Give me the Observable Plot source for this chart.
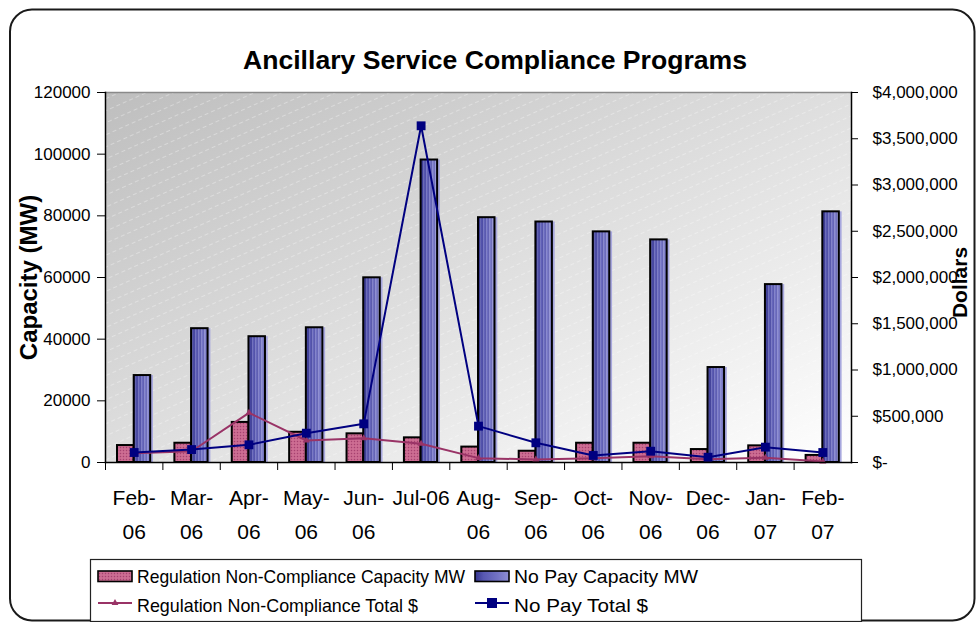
<!DOCTYPE html>
<html><head><meta charset="utf-8">
<script src="https://cdn.jsdelivr.net/npm/d3@7"></script>
<script src="https://cdn.jsdelivr.net/npm/@observablehq/plot@0.6"></script>
<style>
body{margin:0;background:#fff;}
#chart{position:relative;width:976px;height:622px;}
</style></head><body><div id="chart"></div>
<script>
// ---- data ----
const months = ["Feb-06","Mar-06","Apr-06","May-06","Jun-06","Jul-06","Aug-06","Sep-06","Oct-06","Nov-06","Dec-06","Jan-07","Feb-07"];
const monthLabels = ["Feb-\n06","Mar-\n06","Apr-\n06","May-\n06","Jun-\n06","Jul-06","Aug-\n06","Sep-\n06","Oct-\n06","Nov-\n06","Dec-\n06","Jan-\n07","Feb-\n07"];
const regCapacityMW = [5500, 6250, 13000, 9800, 9300, 8000, 5000, 3650, 6250, 6250, 4200, 5400, 2300];
const noPayCapacityMW = [28200, 43400, 40800, 43700, 59900, 98100, 79400, 78000, 74800, 72200, 30800, 57700, 81300];
const regTotalDollars = [100000, 122000, 537000, 238000, 263000, 202000, 47000, 32000, 47000, 68000, 36000, 51000, 11000];
const noPayTotalDollars = [108000, 140000, 191000, 317000, 418000, 3640000, 393000, 213000, 76000, 122000, 57000, 166000, 108000];
const capacityTicks = [0, 20000, 40000, 60000, 80000, 100000, 120000];
const dollarTicks = [0, 500000, 1000000, 1500000, 2000000, 2500000, 3000000, 3500000, 4000000];
const seriesNames = ["Regulation Non-Compliance Capacity MW", "No Pay Capacity MW", "Regulation Non-Compliance Total $", "No Pay Total $"];
const titleText = "Ancillary Service Compliance Programs";
const leftTitle = "Capacity (MW)";
const rightTitle = "Dollars";

// ---- build ----
const k = 120000 / 4000000; // dollars -> capacity axis units
const rows = months.map((m, i) => ({
  month: m, label: monthLabels[i],
  reg: regCapacityMW[i], nopay: noPayCapacityMW[i],
  regUsd: regTotalDollars[i] * k, nopayUsd: noPayTotalDollars[i] * k
}));
const labelOf = Object.fromEntries(rows.map(r => [r.month, r.label]));
const mL = 105, mR = 125, W = 976, H = 622;
const bw = (W - mL - mR) / months.length;
const font = "'Liberation Sans', Arial, Helvetica, sans-serif";
const fmtUsd = v => { const d = Math.round(v / k); return d === 0 ? "$-" : "$" + d3.format(",")(d); };

const plot = Plot.plot({
  width: W, height: H,
  marginLeft: mL, marginRight: mR, marginTop: 92, marginBottom: 160,
  style: {fontFamily: font, color: "#000", background: "transparent", overflow: "visible"},
  x: {type: "band", domain: months, padding: 0, round: false, axis: null},
  y: {domain: [0, 120000], axis: null},
  marks: [
    Plot.frame({fill: "url(#plotBg)", stroke: "none"}),
    Plot.frame({fill: "url(#plotStripes)", stroke: "none"}),
    Plot.frame({anchor: "top", stroke: "#8a8a8a", strokeWidth: 1.5}),
    // bars
    Plot.barY(rows, {x: "month", y: "nopay", fill: "#a8a8de", insetLeft: 31.5, insetRight: bw - 48}),
    Plot.barY(rows, {x: "month", y: "reg", fill: "url(#pinkHatch)", stroke: "#000", strokeWidth: 2, insetLeft: 12, insetRight: bw - 28.7}),
    Plot.barY(rows, {x: "month", y: "nopay", fill: "url(#blueGrad)", insetLeft: 28.7, insetRight: bw - 45.2}),
    Plot.barY(rows, {x: "month", y: "nopay", fill: "url(#blueStripes)", stroke: "#000", strokeWidth: 2, insetLeft: 28.7, insetRight: bw - 45.2}),
    // dollar lines
    Plot.line(rows, {x: "month", y: "regUsd", stroke: "#993366", strokeWidth: 2}),
    Plot.dot(rows, {x: "month", y: "regUsd", symbol: "triangle", r: 2.6, fill: "#993366"}),
    Plot.line(rows, {x: "month", y: "nopayUsd", stroke: "#000080", strokeWidth: 2}),
    Plot.dot(rows, {x: "month", y: "nopayUsd", symbol: "square", r: 5, fill: "#000080"}),
    // axis lines
    Plot.frame({anchor: "left", stroke: "#000", strokeWidth: 1.5}),
    Plot.frame({anchor: "right", stroke: "#000", strokeWidth: 1.5}),
    Plot.frame({anchor: "bottom", stroke: "#000", strokeWidth: 1.5}),
    // axes
    Plot.axisY({anchor: "left", ticks: capacityTicks, tickFormat: d => String(d), tickSize: 8, tickPadding: 7, fontSize: 17, label: null, stroke: "#000"}),
    Plot.axisY({anchor: "right", ticks: dollarTicks.map(d => d * k), tickFormat: fmtUsd, tickSize: 6, tickPadding: 15, fontSize: 17, label: null, stroke: "#000"}),
    Plot.axisX({anchor: "bottom", tickSize: 0, tickPadding: 18, fontSize: 21, lineHeight: 1.62, tickFormat: d => labelOf[d], label: null}),
    Plot.axisX({anchor: "bottom", tickSize: 8, tickPadding: 0, tickFormat: () => "", dx: -bw / 2, label: null, stroke: "#000"}),
    // titles
    Plot.text([titleText], {frameAnchor: "top", textAnchor: "middle", dx: 16.5, dy: -42, fontSize: 26.6, fontWeight: "bold", fill: "#000"}),
    Plot.text([leftTitle], {frameAnchor: "left", textAnchor: "middle", dx: -76, dy: 0, rotate: -90, fontSize: 24, fontWeight: "bold", fill: "#000"}),
    Plot.text([rightTitle], {frameAnchor: "right", textAnchor: "middle", dx: 109, dy: 5, rotate: -90, fontSize: 21, fontWeight: "bold", fill: "#000"})
  ]
});

// ---- defs (gradients / patterns) ----
const svg = d3.select(plot);
const defs = svg.insert("defs", ":first-child");
const bg = defs.append("linearGradient").attr("id", "plotBg").attr("x1", 0).attr("y1", 0).attr("x2", 1).attr("y2", 1);
bg.append("stop").attr("offset", 0).attr("stop-color", "#bebebe");
bg.append("stop").attr("offset", 0.55).attr("stop-color", "#e2e2e2");
bg.append("stop").attr("offset", 1).attr("stop-color", "#ffffff");
const st = defs.append("pattern").attr("id", "plotStripes").attr("patternUnits", "userSpaceOnUse")
  .attr("width", 14).attr("height", 11).attr("patternTransform", "rotate(-24)");
st.append("line").attr("x1", 0).attr("y1", 0.5).attr("x2", 14).attr("y2", 0.5)
  .attr("stroke", "#ffffff").attr("stroke-opacity", 0.33).attr("stroke-width", 1).attr("stroke-dasharray", "4,3");
const ph = defs.append("pattern").attr("id", "pinkHatch").attr("patternUnits", "userSpaceOnUse").attr("width", 3).attr("height", 3);
ph.append("rect").attr("width", 3).attr("height", 3).attr("fill", "#c8648c");
ph.append("rect").attr("width", 1).attr("height", 1).attr("fill", "#a34470");
ph.append("rect").attr("x", 1.5).attr("y", 1.5).attr("width", 1).attr("height", 1).attr("fill", "#d88aa8");
const bgd = defs.append("linearGradient").attr("id", "blueGrad").attr("x1", 0).attr("y1", 0).attr("x2", 1).attr("y2", 0);
bgd.append("stop").attr("offset", 0).attr("stop-color", "#34348e");
bgd.append("stop").attr("offset", 0.25).attr("stop-color", "#5858b2");
bgd.append("stop").attr("offset", 0.65).attr("stop-color", "#7272c4");
bgd.append("stop").attr("offset", 1).attr("stop-color", "#8e8ed4");
const bs = defs.append("pattern").attr("id", "blueStripes").attr("patternUnits", "userSpaceOnUse").attr("width", 3).attr("height", 4);
bs.append("rect").attr("width", 1).attr("height", 4).attr("fill", "#ffffff").attr("fill-opacity", 0.16);
bs.append("rect").attr("x", 2).attr("width", 1).attr("height", 4).attr("fill", "#000040").attr("fill-opacity", 0.12);

// ---- outer rounded border ----
svg.append("rect").attr("x", 10).attr("y", 9.5).attr("width", 964.5).attr("height", 611)
  .attr("rx", 22).attr("fill", "none").attr("stroke", "#1a1a1a").attr("stroke-width", 2);

// ---- legend ----
const L = svg.append("g").attr("font-family", font).attr("font-size", 19).attr("fill", "#000").attr("text-anchor", "start");
L.append("rect").attr("x", 90.5).attr("y", 559.5).attr("width", 771).attr("height", 62)
  .attr("fill", "#fff").attr("stroke", "#222").attr("stroke-width", 1.2);
const legendItems = [
  {name: seriesNames[0], kind: "bar", fill: "url(#pinkHatch)", col: 0, row: 0, len: 328},
  {name: seriesNames[1], kind: "bar", fill: "url(#blueGrad)", col: 1, row: 0, len: 184},
  {name: seriesNames[2], kind: "line", stroke: "#993366", sym: "tri", col: 0, row: 1, len: 281},
  {name: seriesNames[3], kind: "line", stroke: "#000080", sym: "sq", col: 1, row: 1, len: 134}
];
const colX = [98, 475], rowY = [582.5, 611.5];
legendItems.forEach(it => {
  const x0 = colX[it.col], yb = rowY[it.row];
  if (it.kind === "bar") {
    L.append("rect").attr("x", x0).attr("y", yb - 11.5).attr("width", 34).attr("height", 10.5)
      .attr("fill", it.fill).attr("stroke", "#000").attr("stroke-width", 1.6);
  } else {
    const yl = yb - 8.5;
    L.append("line").attr("x1", x0).attr("x2", x0 + 34).attr("y1", yl).attr("y2", yl)
      .attr("stroke", it.stroke).attr("stroke-width", 2);
    if (it.sym === "sq") {
      L.append("rect").attr("x", x0 + 17 - 5).attr("y", yl - 5).attr("width", 10).attr("height", 10).attr("fill", it.stroke);
    } else {
      L.append("path").attr("d", d3.symbol(d3.symbolTriangle, 20)()).attr("transform", `translate(${x0 + 17},${yl})`).attr("fill", it.stroke);
    }
  }
  L.append("text").attr("x", x0 + 39).attr("y", yb).attr("text-anchor", "start").attr("textLength", it.len)
    .attr("lengthAdjust", "spacingAndGlyphs").text(it.name);
});

document.getElementById("chart").appendChild(plot);
</script>
</body></html>
